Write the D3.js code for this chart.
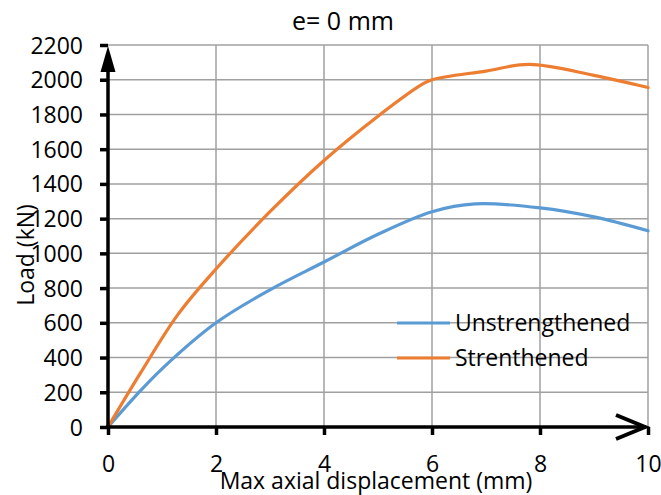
<!DOCTYPE html>
<html>
<head>
<meta charset="utf-8">
<script src="https://cdn.jsdelivr.net/npm/d3@7"></script>
<style>
  body { margin: 0; background: #fff; }
  text { font-family: "Open Sans", "Liberation Sans", sans-serif; fill: #000; }
</style>
</head>
<body>
<script>
var width = 661, height = 495;

// data
var xTicks = [0, 2, 4, 6, 8, 10];
var yTicks = [0, 200, 400, 600, 800, 1000, 1200, 1400, 1600, 1800, 2000, 2200];

var unstrDisp = [0, 0.5, 1, 2, 3, 4, 5, 6, 6.8, 8, 9, 10];
var unstrLoad = [0, 175, 335, 600, 790, 950, 1110, 1240, 1285, 1262, 1210, 1130];

var strDisp = [0, 0.6, 1.3, 2, 3, 4, 5, 5.8, 6, 7, 7.8, 9, 10];
var strLoad = [0, 310, 650, 910, 1240, 1535, 1790, 1970, 2000, 2050, 2088, 2025, 1955];

var seriesNames = ["Unstrengthened", "Strenthened"];
var seriesColors = ["#5b9bd5", "#ed7d31"];

var svg = d3.select("body").append("svg").attr("width", width).attr("height", height);

var x = d3.scaleLinear().domain([0, 10]).range([108, 648]);
var y = d3.scaleLinear().domain([0, 2200]).range([427, 45]);

//GRID.
svg.append("g").selectAll("line").data(yTicks.slice(1)).enter().append("line")
    .attr("x1", x(0)).attr("x2", x(10))
    .attr("y1", function(d) { return y(d); }).attr("y2", function(d) { return y(d); })
    .style("stroke", "#a0a0a0").style("stroke-width", 1.5);
svg.append("g").selectAll("line").data(xTicks.slice(1)).enter().append("line")
    .attr("x1", function(d) { return x(d); }).attr("x2", function(d) { return x(d); })
    .attr("y1", y(0)).attr("y2", y(2200))
    .style("stroke", "#a0a0a0").style("stroke-width", 1.5);

//SERIES.
var line = d3.line().curve(d3.curveCatmullRom.alpha(0.5))
    .x(function(d) { return x(d[0]); }).y(function(d) { return y(d[1]); });

var series = [d3.zip(unstrDisp, unstrLoad), d3.zip(strDisp, strLoad)];
series.forEach(function(s, i) {
    svg.append("path").attr("d", line(s))
        .style("fill", "none").style("stroke", seriesColors[i]).style("stroke-width", 3.2)
        .style("stroke-linecap", "round");
});

//AXES.
var yAxis = d3.axisLeft(y).tickValues(yTicks).tickFormat(d3.format("d")).tickSize(8).tickPadding(17);
var gy = svg.append("g").attr("transform", "translate(" + x(0) + ",0)").call(yAxis);
gy.select(".domain").remove();
gy.selectAll(".tick line").style("stroke", "#000").style("stroke-width", 3.5);
gy.selectAll(".tick text").style("font-size", "23px").attr("dy", "0.35em");

var xAxis = d3.axisBottom(x).tickValues(xTicks).tickSize(8).tickPadding(21);
var gx = svg.append("g").attr("transform", "translate(0," + y(0) + ")").call(xAxis);
gx.select(".domain").remove();
gx.selectAll(".tick line").style("stroke", "#000").style("stroke-width", 3.5);
gx.selectAll(".tick text").style("font-size", "23px");

// axis lines with arrows
svg.append("line").attr("x1", x(0)).attr("x2", x(0)).attr("y1", y(0) + 2).attr("y2", y(2200) + 10)
    .style("stroke", "#000").style("stroke-width", 3.5);
svg.append("path")
    .attr("d", "M" + x(0) + "," + (y(2200) + 1) + "L" + (x(0) - 7.5) + "," + (y(2200) + 27) + "L" + (x(0) + 7.5) + "," + (y(2200) + 27) + "Z")
    .style("fill", "#000");
svg.append("line").attr("x1", x(0) - 2).attr("x2", x(10) - 2).attr("y1", y(0)).attr("y2", y(0))
    .style("stroke", "#000").style("stroke-width", 3.5);
svg.append("path")
    .attr("d", "M" + (x(10) - 32) + "," + (y(0) - 12) + "L" + (x(10) - 3) + "," + y(0) + "L" + (x(10) - 32) + "," + (y(0) + 12))
    .style("fill", "none").style("stroke", "#000").style("stroke-width", 4);

//TITLES.
svg.append("text").text("e= 0 mm").attr("x", 343).attr("y", 30)
    .attr("text-anchor", "middle").style("font-size", "25px");
svg.append("text").text("Max axial displacement (mm)").attr("x", 376).attr("y", 489)
    .attr("text-anchor", "middle").style("font-size", "23px");
svg.append("text").text("Load (kN)")
    .attr("transform", "translate(34,255) rotate(-90)")
    .attr("text-anchor", "middle").style("font-size", "23px");

//LEGEND.
var legend = svg.append("g").selectAll("g").data(seriesNames).enter().append("g")
    .attr("transform", function(d, i) { return "translate(397," + (323 + i * 35) + ")"; });
legend.append("line").attr("x1", 0).attr("x2", 53)
    .style("stroke", function(d, i) { return seriesColors[i]; }).style("stroke-width", 3.2);
legend.append("text").text(function(d) { return d; }).attr("x", 58).attr("dy", "0.35em")
    .style("font-size", "23px");
</script>
</body>
</html>
